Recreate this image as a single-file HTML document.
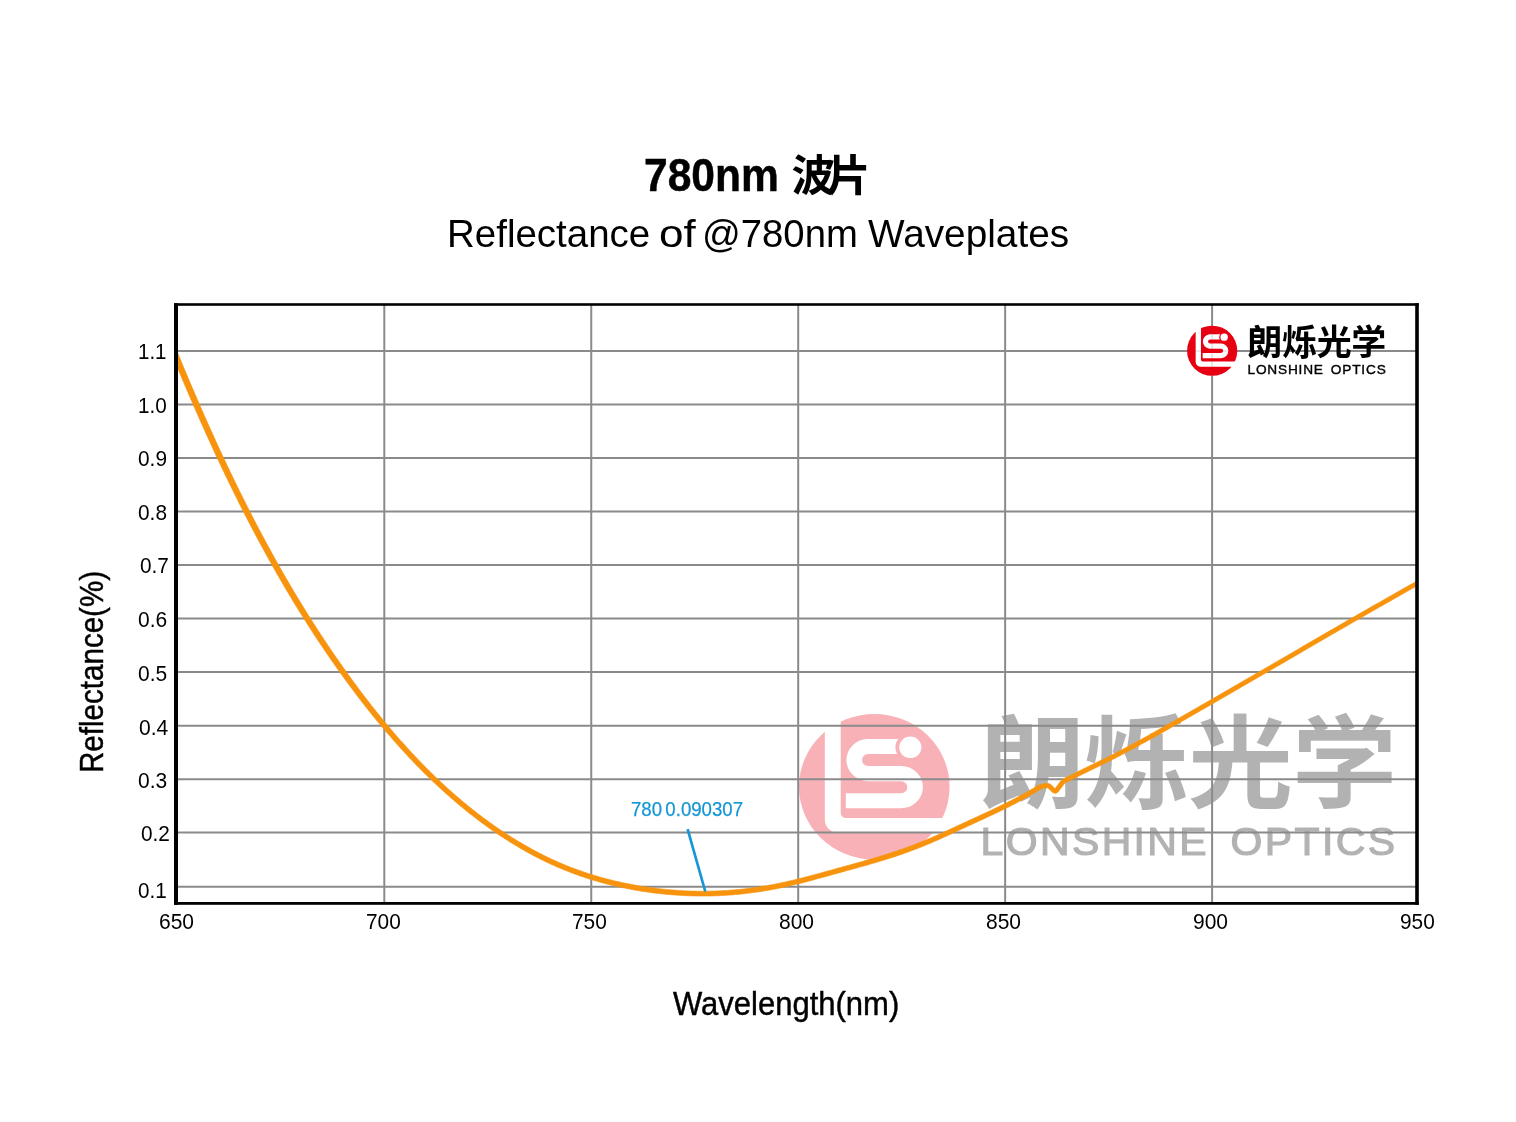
<!DOCTYPE html>
<html lang="en"><head><meta charset="utf-8"><title>780nm Waveplates Reflectance</title>
<style>
html,body{margin:0;padding:0;background:#fff}
body{width:1516px;height:1122px;position:relative;overflow:hidden;font-family:"Liberation Sans",sans-serif;color:#000}
#chart{position:absolute;left:0;top:0;width:1516px;height:1122px}
.t{position:absolute;white-space:nowrap;line-height:1;margin:0;padding:0;transform-origin:0 0}
svg text{font-family:"Liberation Sans","Noto Sans CJK SC",sans-serif}
#page{position:absolute;left:0;top:0;width:1516px;height:1122px;opacity:.999}
</style></head><body><div id="page">
<svg id="chart" width="1516" height="1122" viewBox="0 0 1516 1122">
<defs>
<clipPath id="plot"><rect x="176" y="304.5" width="1241" height="598.9"/></clipPath>
<mask id="lsm" maskUnits="userSpaceOnUse" x="-1" y="-1" width="54" height="54">
<circle cx="25.1" cy="25.1" r="25.1" fill="#fff"/>
<path d="M8.6 -2 V36.4 A4.6 4.6 0 0 0 13.2 41 H60 V35.9 H15.7 A1.8 1.8 0 0 1 13.9 34.1 V-2 Z" fill="#000"/>
<path d="M37 11.2 H22.88 A4.68 4.68 0 0 0 22.88 20.55 H34.02 A4.67 4.67 0 0 1 34.02 29.9 H15.6" fill="none" stroke="#000" stroke-width="5.2"/>
<circle cx="37.1" cy="11.5" r="4.95" fill="#fff"/>
<circle cx="37.1" cy="11.5" r="3.7" fill="#000"/>
</mask>
</defs>
<g transform="translate(799 714) scale(3 2.9)" opacity="0.3" class="wm"><circle cx="25.1" cy="25.1" r="24.8" fill="#fff" opacity="0.8"/><rect x="-1" y="-1" width="54" height="54" fill="#e60012" mask="url(#lsm)"/><text x="60.3" y="29.8" font-size="35" font-weight="bold" textLength="139" lengthAdjust="spacing" fill="#000" style="font-family:'Liberation Sans','Noto Sans CJK SC',sans-serif">朗烁光学</text><text x="60.5" y="48.5" font-size="13.66" textLength="75.4" lengthAdjust="spacing" fill="#000" font-weight="normal" stroke="#000" stroke-width="0.42">LONSHINE</text><text x="143.8" y="48.5" font-size="13.66" textLength="54.9" lengthAdjust="spacing" fill="#000" font-weight="normal" stroke="#000" stroke-width="0.42">OPTICS</text></g>
<g stroke="#8a8a8a" fill="none"><line x1="384.3" y1="304.5" x2="384.3" y2="903.4" stroke-width="2"/><line x1="591.25" y1="304.5" x2="591.25" y2="903.4" stroke-width="2"/><line x1="798.2" y1="304.5" x2="798.2" y2="903.4" stroke-width="2"/><line x1="1005.15" y1="304.5" x2="1005.15" y2="903.4" stroke-width="2"/><line x1="1212.1" y1="304.5" x2="1212.1" y2="903.4" stroke-width="2"/><line x1="176" y1="350.99" x2="1417" y2="350.99" stroke-width="2"/><line x1="176" y1="404.52" x2="1417" y2="404.52" stroke-width="2"/><line x1="176" y1="458.05" x2="1417" y2="458.05" stroke-width="2"/><line x1="176" y1="511.55" x2="1417" y2="511.55" stroke-width="2"/><line x1="176" y1="565.04" x2="1417" y2="565.04" stroke-width="2"/><line x1="176" y1="618.39" x2="1417" y2="618.39" stroke-width="2"/><line x1="176" y1="671.92" x2="1417" y2="671.92" stroke-width="2"/><line x1="176" y1="725.64" x2="1417" y2="725.64" stroke-width="2"/><line x1="176" y1="779.17" x2="1417" y2="779.17" stroke-width="2"/><line x1="176" y1="832.52" x2="1417" y2="832.52" stroke-width="2"/><line x1="176" y1="886.75" x2="1417" y2="886.75" stroke-width="2"/></g>
<g transform="translate(1187.06 325.65) scale(1 1)" opacity="1" class="sm"><circle cx="25.1" cy="25.1" r="24.8" fill="#fff" opacity="0.8"/><rect x="-1" y="-1" width="54" height="54" fill="#e60012" mask="url(#lsm)"/><text x="60.3" y="29.8" font-size="35" font-weight="bold" textLength="139" lengthAdjust="spacing" fill="#000" style="font-family:'Liberation Sans','Noto Sans CJK SC',sans-serif">朗烁光学</text><text x="60.5" y="48.5" font-size="13.66" textLength="75.4" lengthAdjust="spacing" fill="#000" font-weight="normal" stroke="#000" stroke-width="0.42">LONSHINE</text><text x="143.8" y="48.5" font-size="13.66" textLength="54.9" lengthAdjust="spacing" fill="#000" font-weight="normal" stroke="#000" stroke-width="0.42">OPTICS</text></g>
<path d="M172.22 355.14 L175.28 362.53 L176.05 364.38 L176.82 366.23 L177.59 368.08 L178.36 369.92 L179.14 371.77 L179.91 373.61 L180.69 375.46 L181.46 377.3 L182.24 379.15 L183.02 380.99 L183.81 382.84 L184.59 384.68 L185.38 386.52 L186.16 388.36 L186.95 390.2 L187.74 392.04 L188.53 393.88 L189.32 395.72 L190.11 397.56 L190.9 399.4 L191.7 401.23 L192.49 403.07 L193.29 404.91 L194.09 406.75 L194.89 408.58 L195.7 410.42 L196.5 412.25 L197.31 414.08 L198.12 415.91 L198.93 417.75 L199.74 419.58 L200.55 421.41 L201.37 423.23 L202.18 425.06 L202.99 426.89 L203.81 428.72 L204.64 430.55 L205.46 432.38 L206.29 434.2 L207.11 436.02 L207.94 437.84 L208.76 439.67 L209.59 441.49 L210.42 443.31 L211.26 445.14 L212.1 446.96 L212.94 448.78 L213.78 450.59 L214.62 452.41 L215.46 454.22 L216.3 456.04 L217.15 457.86 L218 459.67 L218.85 461.49 L219.71 463.3 L220.57 465.11 L221.42 466.92 L222.28 468.72 L223.14 470.53 L224 472.34 L224.87 474.15 L225.74 475.96 L226.61 477.76 L227.48 479.57 L228.35 481.37 L229.23 483.17 L230.1 484.97 L230.98 486.77 L231.86 488.57 L232.74 490.37 L233.62 492.17 L234.51 493.96 L235.4 495.76 L236.29 497.55 L237.19 499.35 L238.08 501.14 L238.98 502.93 L239.88 504.72 L240.78 506.51 L241.69 508.3 L242.59 510.08 L243.51 511.87 L244.42 513.65 L245.33 515.44 L246.25 517.22 L247.17 519 L248.09 520.78 L249.01 522.56 L249.93 524.33 L250.86 526.11 L251.79 527.89 L252.73 529.66 L253.66 531.43 L254.59 533.2 L255.53 534.97 L256.47 536.74 L257.42 538.51 L258.36 540.28 L259.31 542.04 L260.26 543.8 L261.22 545.57 L262.17 547.33 L263.13 549.09 L264.09 550.85 L265.06 552.6 L266.02 554.36 L266.99 556.11 L267.96 557.87 L268.94 559.62 L269.92 561.37 L270.9 563.12 L271.88 564.86 L272.86 566.61 L273.85 568.36 L274.84 570.1 L275.83 571.84 L276.82 573.58 L277.82 575.32 L278.82 577.06 L279.82 578.79 L280.83 580.52 L281.83 582.26 L282.84 583.99 L283.85 585.72 L284.87 587.45 L285.89 589.18 L286.92 590.9 L287.94 592.62 L288.97 594.34 L290 596.06 L291.03 597.78 L292.06 599.5 L293.1 601.21 L294.14 602.93 L295.18 604.64 L296.23 606.35 L297.28 608.06 L298.33 609.76 L299.39 611.47 L300.45 613.17 L301.51 614.87 L302.57 616.57 L303.64 618.27 L304.71 619.96 L305.78 621.66 L306.86 623.35 L307.94 625.04 L309.02 626.73 L310.1 628.41 L311.19 630.1 L312.28 631.78 L313.38 633.46 L314.47 635.13 L315.57 636.81 L316.67 638.49 L317.78 640.16 L318.89 641.83 L320.01 643.5 L321.12 645.16 L322.24 646.82 L323.35 648.49 L324.48 650.15 L325.61 651.81 L326.74 653.47 L327.87 655.12 L329 656.77 L330.14 658.42 L331.28 660.07 L332.43 661.72 L333.57 663.36 L334.72 665.01 L335.88 666.65 L337.04 668.28 L338.2 669.92 L339.36 671.55 L340.53 673.18 L341.69 674.81 L342.87 676.44 L344.04 678.06 L345.22 679.69 L346.4 681.31 L347.58 682.93 L348.77 684.54 L349.97 686.16 L351.16 687.77 L352.36 689.37 L353.56 690.98 L354.76 692.58 L355.97 694.19 L357.19 695.79 L358.4 697.38 L359.62 698.97 L360.84 700.56 L362.07 702.15 L363.3 703.74 L364.53 705.32 L365.77 706.9 L367.01 708.47 L368.26 710.05 L369.51 711.62 L370.76 713.18 L372.01 714.75 L373.27 716.31 L374.54 717.87 L375.81 719.42 L377.08 720.98 L378.35 722.53 L379.63 724.07 L380.91 725.62 L382.2 727.16 L383.49 728.7 L384.79 730.23 L386.09 731.76 L387.39 733.28 L388.7 734.8 L390.01 736.32 L391.32 737.84 L392.64 739.35 L393.97 740.86 L395.3 742.37 L396.63 743.87 L397.97 745.36 L399.3 746.86 L400.65 748.35 L402 749.84 L403.35 751.32 L404.71 752.8 L406.08 754.27 L407.44 755.74 L408.82 757.2 L410.19 758.67 L411.57 760.12 L412.96 761.58 L414.35 763.03 L415.75 764.47 L417.15 765.91 L418.55 767.35 L419.96 768.78 L421.37 770.2 L422.79 771.63 L424.21 773.04 L425.64 774.46 L427.07 775.87 L428.51 777.27 L429.96 778.67 L431.41 780.06 L432.86 781.44 L434.32 782.82 L435.78 784.2 L437.24 785.57 L438.71 786.94 L440.19 788.31 L441.68 789.67 L443.16 791.02 L444.66 792.36 L446.15 793.7 L447.65 795.03 L449.15 796.37 L450.67 797.7 L452.18 799.02 L453.71 800.33 L455.23 801.63 L456.76 802.93 L458.3 804.23 L459.84 805.52 L461.38 806.81 L462.93 808.09 L464.49 809.36 L466.05 810.63 L467.61 811.89 L469.19 813.14 L470.77 814.39 L472.35 815.62 L473.94 816.85 L475.53 818.08 L477.13 819.3 L478.73 820.52 L480.34 821.72 L481.96 822.92 L483.58 824.11 L485.2 825.3 L486.83 826.47 L488.46 827.64 L490.1 828.81 L491.75 829.97 L493.4 831.12 L495.06 832.26 L496.72 833.39 L498.39 834.52 L500.06 835.64 L501.74 836.75 L503.42 837.85 L505.11 838.94 L506.8 840.03 L508.5 841.11 L510.21 842.18 L511.92 843.24 L513.63 844.29 L515.35 845.33 L517.08 846.37 L518.81 847.39 L520.55 848.41 L522.29 849.42 L524.04 850.42 L525.79 851.41 L527.55 852.39 L529.31 853.36 L531.08 854.32 L532.86 855.28 L534.64 856.22 L536.43 857.14 L538.22 858.06 L540.01 858.97 L541.81 859.87 L543.62 860.77 L545.44 861.65 L547.26 862.51 L549.08 863.37 L550.91 864.21 L552.74 865.05 L554.58 865.87 L556.43 866.68 L558.28 867.48 L560.13 868.27 L561.99 869.05 L563.86 869.81 L565.73 870.57 L567.6 871.31 L569.48 872.04 L571.36 872.76 L573.24 873.46 L575.14 874.16 L577.03 874.85 L578.93 875.52 L580.84 876.18 L582.75 876.83 L584.66 877.47 L586.57 878.09 L588.49 878.7 L590.41 879.31 L592.34 879.9 L594.27 880.48 L596.2 881.05 L598.13 881.61 L600.07 882.15 L602.01 882.69 L603.95 883.22 L605.9 883.74 L607.85 884.24 L609.81 884.73 L611.76 885.21 L613.72 885.68 L615.68 886.14 L617.64 886.59 L619.61 887.03 L621.57 887.46 L623.54 887.87 L625.51 888.28 L627.49 888.68 L629.46 889.06 L631.44 889.44 L633.42 889.8 L635.4 890.16 L637.39 890.5 L639.37 890.84 L641.36 891.16 L643.34 891.47 L645.33 891.78 L647.32 892.07 L649.32 892.36 L651.31 892.63 L653.31 892.89 L655.3 893.14 L657.3 893.38 L659.3 893.61 L661.31 893.83 L663.31 894.04 L665.31 894.24 L667.31 894.43 L669.32 894.61 L671.32 894.77 L673.33 894.93 L675.34 895.08 L677.34 895.22 L679.35 895.34 L681.36 895.46 L683.37 895.57 L685.38 895.66 L687.39 895.75 L689.41 895.82 L691.42 895.89 L693.43 895.94 L695.44 895.98 L697.45 896.01 L699.46 896.04 L701.48 896.05 L703.5 896.05 L705.5 896.03 L707.51 896.02 L709.53 895.99 L711.55 895.94 L713.56 895.88 L715.57 895.82 L717.58 895.74 L719.59 895.66 L721.6 895.56 L723.61 895.46 L725.62 895.34 L727.63 895.21 L729.64 895.07 L731.64 894.92 L733.65 894.76 L735.65 894.59 L737.66 894.41 L739.67 894.22 L741.67 894.02 L743.67 893.8 L745.67 893.58 L747.67 893.34 L749.67 893.09 L751.66 892.83 L753.66 892.57 L755.65 892.29 L757.64 892 L759.63 891.7 L761.62 891.39 L763.61 891.07 L765.59 890.74 L767.58 890.4 L769.56 890.05 L771.54 889.68 L773.52 889.31 L775.5 888.93 L777.47 888.53 L779.44 888.13 L781.41 887.72 L783.37 887.3 L785.34 886.87 L787.3 886.42 L789.26 885.97 L791.21 885.52 L793.17 885.06 L795.12 884.6 L797.07 884.12 L799.02 883.64 L800.97 883.16 L802.92 882.66 L804.86 882.17 L806.8 881.66 L808.74 881.15 L810.68 880.65 L812.62 880.13 L814.56 879.62 L816.49 879.09 L818.43 878.57 L820.36 878.04 L822.29 877.51 L824.22 876.98 L826.15 876.45 L828.08 875.92 L830.01 875.38 L831.94 874.84 L833.86 874.3 L835.79 873.76 L837.71 873.23 L839.64 872.69 L841.56 872.16 L843.49 871.63 L845.42 871.1 L847.35 870.56 L849.27 870.03 L851.2 869.5 L853.13 868.97 L855.06 868.44 L856.99 867.9 L858.92 867.37 L860.85 866.83 L862.78 866.29 L864.71 865.75 L866.63 865.2 L868.56 864.65 L870.49 864.09 L872.41 863.53 L874.34 862.97 L876.26 862.4 L878.19 861.83 L880.11 861.24 L882.03 860.66 L883.94 860.06 L885.86 859.47 L887.77 858.86 L889.69 858.25 L891.6 857.63 L893.51 857.01 L895.41 856.38 L897.32 855.74 L899.22 855.09 L901.12 854.44 L903.02 853.78 L904.92 853.12 L906.81 852.44 L908.7 851.76 L910.59 851.06 L912.47 850.37 L914.35 849.66 L916.23 848.95 L918.11 848.23 L919.98 847.49 L921.85 846.76 L923.72 846.01 L925.58 845.25 L927.44 844.48 L929.3 843.71 L931.15 842.92 L933 842.12 L934.84 841.32 L936.68 840.51 L938.51 839.7 L940.34 838.88 L942.17 838.05 L944 837.22 L945.82 836.39 L947.64 835.56 L949.46 834.72 L951.28 833.88 L953.1 833.03 L954.91 832.18 L956.72 831.34 L958.54 830.5 L960.35 829.66 L962.16 828.82 L963.97 827.98 L965.79 827.15 L967.61 826.32 L969.43 825.48 L971.24 824.65 L973.06 823.81 L974.88 822.97 L976.7 822.14 L978.51 821.3 L980.33 820.47 L982.15 819.63 L983.97 818.79 L985.78 817.95 L987.6 817.11 L989.42 816.26 L991.24 815.41 L993.05 814.55 L994.86 813.69 L996.67 812.83 L998.48 811.97 L1000.28 811.09 L1002.09 810.22 L1003.89 809.33 L1005.69 808.44 L1007.49 807.55 L1009.28 806.65 L1011.07 805.74 L1012.86 804.82 L1014.65 803.9 L1016.43 802.97 L1018.2 802.03 L1019.98 801.08 L1021.75 800.13 L1023.51 799.17 L1025.27 798.2 L1027.03 797.22 L1028.79 796.23 L1030.53 795.23 L1032.27 794.23 L1034.01 793.21 L1035.74 792.19 L1037.53 791.13 L1039.2 789.99 L1040.62 789.15 L1042.14 788.69 L1043.95 788.32 L1045.84 788.04 L1047.3 787.87 L1048.09 788.14 L1049.34 789.32 L1050.82 790.72 L1052.61 792.61 L1055.87 793.45 L1058.43 791.67 L1059.93 789.61 L1061.22 787.84 L1062.47 786.23 L1063.62 784.64 L1064.68 783.44 L1065.89 782.58 L1067.51 781.77 L1069.37 780.91 L1071.2 779.98 L1072.98 779.07 L1074.76 778.17 L1076.54 777.27 L1078.32 776.37 L1080.11 775.48 L1081.89 774.59 L1083.68 773.71 L1085.47 772.83 L1087.26 771.95 L1089.06 771.07 L1090.86 770.19 L1092.65 769.31 L1094.45 768.43 L1096.25 767.55 L1098.04 766.67 L1099.84 765.79 L1101.64 764.91 L1103.43 764.02 L1105.23 763.14 L1107.03 762.25 L1108.82 761.35 L1110.61 760.46 L1112.4 759.56 L1114.19 758.65 L1115.98 757.74 L1117.77 756.83 L1119.55 755.91 L1121.33 754.98 L1123.11 754.05 L1124.88 753.12 L1126.65 752.18 L1128.42 751.25 L1130.19 750.3 L1131.96 749.36 L1133.73 748.41 L1135.49 747.46 L1137.25 746.5 L1139.01 745.54 L1140.77 744.58 L1142.52 743.62 L1144.28 742.65 L1146.03 741.68 L1147.78 740.71 L1149.53 739.74 L1151.28 738.77 L1153.03 737.79 L1154.78 736.81 L1156.53 735.83 L1158.27 734.85 L1160.01 733.87 L1161.76 732.88 L1163.5 731.89 L1165.24 730.91 L1166.98 729.92 L1168.72 728.93 L1170.46 727.94 L1172.2 726.95 L1173.94 725.96 L1175.67 724.97 L1177.41 723.98 L1179.15 722.99 L1180.89 722 L1182.62 721 L1184.36 720.01 L1186.1 719.02 L1187.83 718.03 L1189.57 717.04 L1191.31 716.04 L1193.04 715.05 L1194.78 714.05 L1196.51 713.06 L1198.25 712.06 L1199.98 711.07 L1201.72 710.07 L1203.45 709.07 L1205.19 708.07 L1206.92 707.07 L1208.65 706.07 L1210.38 705.08 L1212.12 704.08 L1213.86 703.08 L1215.59 702.08 L1217.32 701.08 L1219.05 700.08 L1220.78 699.08 L1222.51 698.08 L1224.25 697.08 L1225.98 696.08 L1227.71 695.07 L1229.44 694.07 L1231.17 693.07 L1232.9 692.06 L1234.63 691.06 L1236.36 690.06 L1238.09 689.06 L1239.83 688.06 L1241.56 687.05 L1243.29 686.05 L1245.01 685.05 L1246.75 684.04 L1248.48 683.04 L1250.21 682.04 L1251.94 681.03 L1253.67 680.02 L1255.4 679.02 L1257.12 678.01 L1258.85 677.01 L1260.58 676 L1262.31 675 L1264.04 673.99 L1265.77 672.99 L1267.5 671.98 L1269.23 670.98 L1270.96 669.97 L1272.69 668.97 L1274.42 667.96 L1276.14 666.96 L1277.87 665.95 L1279.6 664.95 L1281.33 663.94 L1283.06 662.94 L1284.79 661.93 L1286.52 660.93 L1288.25 659.92 L1289.98 658.91 L1291.7 657.91 L1293.43 656.9 L1295.16 655.9 L1296.89 654.89 L1298.62 653.89 L1300.35 652.88 L1302.08 651.88 L1303.81 650.87 L1305.54 649.87 L1307.27 648.86 L1309 647.86 L1310.72 646.85 L1312.45 645.85 L1314.18 644.85 L1315.91 643.85 L1317.65 642.84 L1319.37 641.83 L1321.1 640.83 L1322.83 639.83 L1324.56 638.83 L1326.29 637.82 L1328.02 636.82 L1329.75 635.81 L1331.48 634.81 L1333.21 633.81 L1334.94 632.81 L1336.67 631.81 L1338.4 630.8 L1340.13 629.8 L1341.87 628.8 L1343.6 627.81 L1345.33 626.81 L1347.06 625.81 L1348.8 624.81 L1350.53 623.8 L1352.26 622.8 L1353.99 621.81 L1355.72 620.81 L1357.46 619.81 L1359.19 618.82 L1360.92 617.82 L1362.66 616.82 L1364.39 615.83 L1366.12 614.83 L1367.86 613.83 L1369.59 612.84 L1371.33 611.84 L1373.06 610.85 L1374.79 609.85 L1376.53 608.86 L1378.26 607.86 L1380 606.87 L1381.73 605.88 L1383.47 604.89 L1385.21 603.89 L1386.94 602.9 L1388.68 601.91 L1390.41 600.92 L1392.15 599.93 L1393.89 598.95 L1395.63 597.96 L1397.37 596.97 L1399.11 595.98 L1400.84 594.99 L1402.58 594.01 L1404.33 593.02 L1406.07 592.04 L1407.81 591.05 L1409.54 590.07 L1411.28 589.09 L1413.03 588.11 L1414.77 587.12 L1415.57 586.67 L1422.51 582.7 L1420.38 578.97 L1413.43 582.93 L1412.65 583.38 L1410.92 584.36 L1409.17 585.34 L1407.43 586.32 L1405.68 587.31 L1403.94 588.29 L1402.2 589.28 L1400.46 590.26 L1398.72 591.25 L1396.98 592.23 L1395.24 593.22 L1393.5 594.21 L1391.76 595.2 L1390.03 596.19 L1388.29 597.17 L1386.54 598.16 L1384.8 599.16 L1383.07 600.15 L1381.33 601.14 L1379.6 602.13 L1377.86 603.13 L1376.12 604.12 L1374.38 605.11 L1372.65 606.11 L1370.91 607.1 L1369.18 608.1 L1367.44 609.09 L1365.71 610.09 L1363.97 611.09 L1362.24 612.08 L1360.5 613.08 L1358.77 614.08 L1357.04 615.07 L1355.3 616.07 L1353.57 617.07 L1351.83 618.06 L1350.1 619.06 L1348.36 620.06 L1346.63 621.06 L1344.9 622.06 L1343.17 623.06 L1341.44 624.06 L1339.7 625.06 L1337.97 626.06 L1336.24 627.06 L1334.51 628.06 L1332.78 629.06 L1331.04 630.06 L1329.31 631.06 L1327.58 632.07 L1325.85 633.07 L1324.12 634.08 L1322.39 635.08 L1320.66 636.08 L1318.93 637.08 L1317.2 638.09 L1315.47 639.09 L1313.74 640.1 L1312.01 641.1 L1310.28 642.1 L1308.55 643.1 L1306.82 644.11 L1305.09 645.11 L1303.36 646.12 L1301.63 647.12 L1299.9 648.13 L1298.17 649.13 L1296.44 650.14 L1294.71 651.14 L1292.98 652.15 L1291.25 653.15 L1289.52 654.16 L1287.79 655.16 L1286.06 656.17 L1284.34 657.17 L1282.61 658.18 L1280.88 659.18 L1279.15 660.19 L1277.42 661.19 L1275.69 662.2 L1273.96 663.2 L1272.23 664.21 L1270.5 665.21 L1268.77 666.22 L1267.04 667.22 L1265.31 668.22 L1263.59 669.23 L1261.86 670.23 L1260.13 671.24 L1258.4 672.24 L1256.67 673.25 L1254.94 674.25 L1253.21 675.26 L1251.48 676.26 L1249.75 677.27 L1248.02 678.27 L1246.29 679.27 L1244.56 680.28 L1242.83 681.28 L1241.1 682.28 L1239.37 683.28 L1237.64 684.29 L1235.91 685.29 L1234.18 686.29 L1232.45 687.29 L1230.72 688.29 L1228.98 689.29 L1227.25 690.3 L1225.53 691.3 L1223.8 692.3 L1222.06 693.3 L1220.33 694.3 L1218.6 695.3 L1216.87 696.3 L1215.13 697.3 L1213.4 698.3 L1211.67 699.3 L1209.94 700.3 L1208.21 701.29 L1206.48 702.29 L1204.74 703.28 L1203 704.28 L1201.27 705.28 L1199.54 706.28 L1197.81 707.28 L1196.07 708.27 L1194.34 709.27 L1192.6 710.26 L1190.87 711.26 L1189.14 712.25 L1187.4 713.24 L1185.66 714.23 L1183.93 715.22 L1182.19 716.21 L1180.45 717.21 L1178.72 718.2 L1176.98 719.19 L1175.24 720.18 L1173.51 721.17 L1171.77 722.16 L1170.03 723.15 L1168.3 724.14 L1166.56 725.12 L1164.82 726.11 L1163.08 727.09 L1161.34 728.08 L1159.6 729.07 L1157.86 730.05 L1156.12 731.03 L1154.38 732.01 L1152.64 732.99 L1150.89 733.96 L1149.15 734.94 L1147.4 735.91 L1145.66 736.88 L1143.91 737.84 L1142.16 738.81 L1140.41 739.77 L1138.66 740.73 L1136.91 741.69 L1135.16 742.65 L1133.4 743.6 L1131.65 744.55 L1129.89 745.49 L1128.13 746.43 L1126.36 747.37 L1124.6 748.3 L1122.83 749.24 L1121.07 750.16 L1119.3 751.09 L1117.53 752.01 L1115.76 752.92 L1113.99 753.83 L1112.21 754.73 L1110.43 755.63 L1108.64 756.53 L1106.86 757.42 L1105.07 758.31 L1103.28 759.19 L1101.49 760.08 L1099.7 760.96 L1097.91 761.83 L1096.11 762.71 L1094.31 763.58 L1092.51 764.46 L1090.71 765.34 L1088.92 766.21 L1087.12 767.08 L1085.32 767.95 L1083.51 768.83 L1081.71 769.71 L1079.92 770.6 L1078.12 771.49 L1076.32 772.38 L1074.53 773.28 L1072.74 774.17 L1070.95 775.07 L1069.16 775.98 L1067.41 776.86 L1065.56 777.72 L1063.58 778.72 L1061.67 780.08 L1060.11 781.8 L1058.85 783.52 L1057.61 785.13 L1056.27 786.95 L1055.09 788.61 L1054.88 789.03 L1055.26 788.93 L1054.06 787.53 L1052.43 785.99 L1050.48 784.26 L1047.81 783.34 L1045.31 783.51 L1043.17 783.82 L1041.01 784.25 L1038.78 784.96 L1036.76 786.11 L1035.06 787.26 L1033.41 788.24 L1031.69 789.24 L1029.97 790.24 L1028.24 791.23 L1026.51 792.21 L1024.78 793.18 L1023.04 794.15 L1021.29 795.1 L1019.54 796.05 L1017.79 796.99 L1016.03 797.92 L1014.27 798.84 L1012.5 799.76 L1010.73 800.67 L1008.96 801.57 L1007.18 802.47 L1005.4 803.36 L1003.61 804.24 L1001.82 805.12 L1000.03 805.99 L998.24 806.86 L996.44 807.73 L994.64 808.59 L992.84 809.44 L991.03 810.3 L989.23 811.15 L987.43 812 L985.62 812.84 L983.81 813.68 L981.99 814.52 L980.18 815.35 L978.36 816.19 L976.54 817.02 L974.73 817.86 L972.91 818.69 L971.09 819.53 L969.27 820.36 L967.46 821.19 L965.64 822.03 L963.82 822.86 L962 823.69 L960.18 824.53 L958.36 825.37 L956.55 826.21 L954.73 827.06 L952.92 827.9 L951.1 828.75 L949.3 829.59 L947.48 830.42 L945.67 831.26 L943.85 832.09 L942.04 832.92 L940.22 833.74 L938.4 834.56 L936.58 835.37 L934.76 836.18 L932.94 836.98 L931.12 837.78 L929.29 838.56 L927.46 839.34 L925.62 840.1 L923.79 840.86 L921.94 841.61 L920.1 842.35 L918.25 843.08 L916.39 843.8 L914.54 844.51 L912.68 845.22 L910.81 845.92 L908.94 846.61 L907.07 847.29 L905.2 847.97 L903.33 848.64 L901.45 849.3 L899.57 849.95 L897.69 850.59 L895.8 851.23 L893.91 851.86 L892.02 852.49 L890.13 853.11 L888.23 853.72 L886.34 854.32 L884.44 854.92 L882.53 855.52 L880.63 856.1 L878.72 856.68 L876.81 857.26 L874.91 857.83 L872.99 858.39 L871.08 858.95 L869.16 859.51 L867.25 860.06 L865.33 860.61 L863.41 861.15 L861.49 861.7 L859.56 862.23 L857.64 862.77 L855.72 863.3 L853.79 863.83 L851.86 864.36 L849.93 864.89 L848 865.42 L846.07 865.95 L844.15 866.49 L842.22 867.02 L840.29 867.55 L838.36 868.08 L836.43 868.61 L834.5 869.15 L832.57 869.69 L830.65 870.22 L828.72 870.76 L826.8 871.3 L824.87 871.83 L822.95 872.36 L821.02 872.88 L819.09 873.41 L817.16 873.94 L815.24 874.46 L813.31 874.98 L811.39 875.49 L809.46 876 L807.53 876.51 L805.59 877.01 L803.66 877.51 L801.73 878 L799.8 878.49 L797.87 878.97 L795.93 879.45 L794 879.92 L792.06 880.38 L790.12 880.83 L788.18 881.28 L786.24 881.73 L784.3 882.16 L782.36 882.59 L780.41 883 L778.46 883.41 L776.51 883.81 L774.56 884.19 L772.61 884.57 L770.66 884.94 L768.71 885.3 L766.75 885.65 L764.79 885.98 L762.83 886.3 L760.87 886.62 L758.9 886.92 L756.94 887.22 L754.97 887.5 L753 887.78 L751.03 888.04 L749.06 888.29 L747.09 888.54 L745.12 888.77 L743.14 888.99 L741.17 889.2 L739.19 889.4 L737.21 889.59 L735.23 889.77 L733.25 889.93 L731.27 890.09 L729.29 890.24 L727.31 890.38 L725.33 890.5 L723.34 890.61 L721.36 890.72 L719.37 890.81 L717.39 890.89 L715.4 890.97 L713.41 891.03 L711.42 891.08 L709.44 891.13 L707.46 891.16 L705.47 891.17 L703.48 891.18 L701.49 891.19 L699.51 891.18 L697.52 891.15 L695.53 891.12 L693.55 891.08 L691.56 891.02 L689.57 890.96 L687.59 890.88 L685.6 890.8 L683.62 890.7 L681.63 890.6 L679.65 890.48 L677.67 890.35 L675.68 890.21 L673.7 890.07 L671.72 889.91 L669.74 889.74 L667.76 889.57 L665.78 889.38 L663.8 889.18 L661.82 888.98 L659.85 888.76 L657.88 888.53 L655.91 888.29 L653.93 888.04 L651.96 887.78 L649.99 887.51 L648.03 887.23 L646.06 886.94 L644.1 886.64 L642.13 886.33 L640.17 886.01 L638.21 885.67 L636.25 885.33 L634.3 884.98 L632.34 884.62 L630.39 884.25 L628.44 883.87 L626.5 883.48 L624.55 883.07 L622.61 882.66 L620.66 882.24 L618.73 881.8 L616.79 881.36 L614.86 880.9 L612.92 880.44 L610.99 879.96 L609.07 879.48 L607.15 878.98 L605.23 878.47 L603.31 877.95 L601.4 877.42 L599.49 876.88 L597.58 876.32 L595.67 875.76 L593.77 875.19 L591.87 874.61 L589.98 874.01 L588.09 873.4 L586.2 872.79 L584.32 872.16 L582.44 871.52 L580.56 870.87 L578.69 870.21 L576.83 869.53 L574.97 868.84 L573.11 868.14 L571.25 867.43 L569.4 866.71 L567.56 865.98 L565.72 865.24 L563.88 864.49 L562.05 863.72 L560.22 862.94 L558.4 862.15 L556.59 861.36 L554.78 860.54 L552.97 859.72 L551.17 858.89 L549.37 858.04 L547.58 857.19 L545.8 856.32 L544.02 855.44 L542.24 854.55 L540.47 853.65 L538.7 852.74 L536.94 851.83 L535.18 850.9 L533.44 849.96 L531.69 849.01 L529.95 848.05 L528.22 847.08 L526.49 846.11 L524.76 845.12 L523.05 844.12 L521.33 843.12 L519.62 842.1 L517.92 841.08 L516.22 840.05 L514.52 839.01 L512.83 837.96 L511.15 836.91 L509.47 835.84 L507.8 834.77 L506.13 833.69 L504.47 832.6 L502.81 831.5 L501.16 830.39 L499.51 829.28 L497.87 828.16 L496.23 827.03 L494.6 825.89 L492.98 824.75 L491.36 823.59 L489.74 822.43 L488.13 821.27 L486.52 820.09 L484.92 818.91 L483.32 817.73 L481.73 816.54 L480.14 815.34 L478.57 814.13 L476.99 812.91 L475.42 811.69 L473.85 810.46 L472.29 809.23 L470.73 807.99 L469.19 806.75 L467.64 805.49 L466.1 804.23 L464.57 802.96 L463.04 801.69 L461.51 800.41 L459.99 799.12 L458.48 797.83 L456.96 796.54 L455.46 795.24 L453.95 793.93 L452.46 792.62 L450.98 791.3 L449.5 789.97 L448.02 788.63 L446.54 787.29 L445.07 785.95 L443.61 784.6 L442.15 783.25 L440.7 781.89 L439.25 780.52 L437.8 779.15 L436.36 777.77 L434.92 776.39 L433.49 775.01 L432.07 773.62 L430.64 772.23 L429.23 770.83 L427.82 769.42 L426.41 768.01 L425.01 766.6 L423.62 765.18 L422.22 763.75 L420.83 762.32 L419.45 760.89 L418.07 759.46 L416.7 758.02 L415.33 756.57 L413.96 755.12 L412.6 753.66 L411.24 752.2 L409.89 750.74 L408.54 749.27 L407.2 747.8 L405.86 746.33 L404.53 744.85 L403.2 743.37 L401.87 741.88 L400.55 740.39 L399.23 738.89 L397.91 737.4 L396.6 735.9 L395.3 734.39 L394 732.88 L392.7 731.37 L391.41 729.85 L390.12 728.33 L388.83 726.81 L387.55 725.28 L386.27 723.76 L385 722.22 L383.73 720.69 L382.46 719.14 L381.2 717.6 L379.94 716.05 L378.69 714.5 L377.44 712.95 L376.19 711.4 L374.95 709.84 L373.71 708.28 L372.47 706.71 L371.24 705.15 L370.01 703.58 L368.78 702 L367.56 700.43 L366.35 698.85 L365.13 697.27 L363.92 695.68 L362.71 694.09 L361.51 692.51 L360.31 690.92 L359.11 689.32 L357.92 687.72 L356.73 686.12 L355.54 684.52 L354.35 682.91 L353.17 681.31 L352 679.7 L350.82 678.09 L349.65 676.47 L348.49 674.85 L347.32 673.23 L346.16 671.61 L345 669.99 L343.84 668.36 L342.69 666.73 L341.54 665.1 L340.4 663.47 L339.25 661.84 L338.11 660.2 L336.98 658.56 L335.84 656.92 L334.71 655.28 L333.58 653.63 L332.46 651.98 L331.33 650.33 L330.21 648.68 L329.1 647.03 L327.99 645.38 L326.88 643.72 L325.77 642.06 L324.66 640.39 L323.56 638.73 L322.46 637.07 L321.36 635.4 L320.27 633.74 L319.18 632.06 L318.09 630.39 L317.01 628.71 L315.93 627.04 L314.85 625.36 L313.77 623.68 L312.7 622 L311.63 620.31 L310.56 618.63 L309.5 616.94 L308.44 615.25 L307.38 613.56 L306.33 611.87 L305.28 610.17 L304.23 608.47 L303.18 606.77 L302.13 605.07 L301.09 603.37 L300.05 601.67 L299.01 599.97 L297.98 598.26 L296.95 596.55 L295.92 594.84 L294.9 593.13 L293.87 591.41 L292.85 589.7 L291.83 587.98 L290.81 586.27 L289.8 584.55 L288.79 582.83 L287.78 581.11 L286.78 579.38 L285.78 577.66 L284.78 575.93 L283.79 574.2 L282.79 572.46 L281.8 570.73 L280.81 569 L279.82 567.27 L278.84 565.53 L277.86 563.79 L276.88 562.05 L275.9 560.31 L274.93 558.57 L273.95 556.83 L272.99 555.08 L272.02 553.34 L271.06 551.59 L270.1 549.84 L269.14 548.09 L268.18 546.33 L267.23 544.58 L266.28 542.83 L265.33 541.07 L264.38 539.31 L263.44 537.55 L262.5 535.79 L261.56 534.03 L260.63 532.27 L259.69 530.51 L258.76 528.74 L257.83 526.97 L256.9 525.2 L255.98 523.44 L255.05 521.67 L254.13 519.9 L253.22 518.12 L252.3 516.35 L251.39 514.57 L250.47 512.8 L249.56 511.02 L248.66 509.24 L247.75 507.46 L246.85 505.68 L245.95 503.9 L245.05 502.12 L244.15 500.33 L243.26 498.55 L242.37 496.76 L241.48 494.98 L240.59 493.19 L239.71 491.4 L238.83 489.61 L237.95 487.81 L237.07 486.02 L236.19 484.23 L235.32 482.43 L234.45 480.63 L233.58 478.84 L232.71 477.04 L231.84 475.24 L230.97 473.44 L230.11 471.64 L229.25 469.84 L228.39 468.04 L227.54 466.23 L226.68 464.43 L225.82 462.62 L224.97 460.81 L224.12 459.01 L223.27 457.2 L222.43 455.39 L221.59 453.58 L220.75 451.77 L219.91 449.96 L219.07 448.15 L218.23 446.33 L217.39 444.52 L216.56 442.7 L215.73 440.89 L214.9 439.07 L214.08 437.26 L213.25 435.44 L212.43 433.61 L211.61 431.79 L210.78 429.97 L209.96 428.15 L209.15 426.33 L208.33 424.51 L207.52 422.68 L206.71 420.86 L205.9 419.03 L205.09 417.2 L204.28 415.38 L203.47 413.55 L202.67 411.72 L201.86 409.89 L201.06 408.06 L200.26 406.23 L199.46 404.4 L198.66 402.57 L197.87 400.74 L197.08 398.91 L196.29 397.07 L195.5 395.24 L194.71 393.4 L193.92 391.57 L193.13 389.73 L192.35 387.89 L191.56 386.05 L190.78 384.22 L190 382.38 L189.21 380.54 L188.43 378.7 L187.66 376.86 L186.88 375.02 L186.11 373.18 L185.34 371.33 L184.56 369.49 L183.79 367.65 L183.02 365.81 L182.25 363.96 L181.48 362.12 L180.72 360.27 L177.66 352.88Z" fill="#f7930d" stroke="#f7930d" stroke-width="0.6" stroke-linejoin="round" clip-path="url(#plot)"/>
<line x1="687.6" y1="829.2" x2="705.3" y2="891.5" stroke="#1597d5" stroke-width="2.7"/>
<g fill="#000">
<rect x="174" y="303.2" width="4" height="601.6"/>
<rect x="1415.2" y="303.2" width="3.6" height="601.6"/>
<rect x="174" y="303.2" width="1244.8" height="2.6"/>
<rect x="174" y="902" width="1244.8" height="2.8"/>
</g>
<text x="791.5" y="191" font-size="43.5" font-weight="bold" textLength="79" lengthAdjust="spacing" fill="#000" style="font-family:'Liberation Sans','Noto Sans CJK SC',sans-serif">波片</text>
</svg>
<div class="t" id="ttl" style="left:643.82px;top:152.84px;font-size:45.6px;font-weight:bold;-webkit-text-stroke:0.5px #000;transform:scale(0.9333,1);">780nm</div>
<div class="t" id="sub0" style="left:446.95px;top:215.36px;font-size:38.52px;transform:scale(0.9992,1);">Reflectance</div>
<div class="t" id="sub1" style="left:658.74px;top:215.36px;font-size:38.52px;transform:scale(1.1439,1);">of</div>
<div class="t" id="sub2" style="left:702.05px;top:215.36px;font-size:38.52px;transform:scale(0.9929,1);">@780nm</div>
<div class="t" id="sub3" style="left:867.69px;top:215.36px;font-size:38.52px;transform:scale(1.0068,1);">Waveplates</div>
<div class="t" id="y0" style="left:137.8px;top:340.62px;font-size:22.5px;transform:scale(0.9097,1);">1.1</div>
<div class="t" id="y1" style="left:137.99px;top:394.52px;font-size:22.5px;transform:scale(0.9198,1);">1.0</div>
<div class="t" id="y2" style="left:137.97px;top:447.98px;font-size:22.5px;transform:scale(0.9265,1);">0.9</div>
<div class="t" id="y3" style="left:137.98px;top:502.38px;font-size:22.5px;transform:scale(0.9263,1);">0.8</div>
<div class="t" id="y4" style="left:139.57px;top:554.77px;font-size:22.5px;transform:scale(0.9247,1);">0.7</div>
<div class="t" id="y5" style="left:137.9px;top:608.88px;font-size:22.5px;transform:scale(0.933,1);">0.6</div>
<div class="t" id="y6" style="left:138.37px;top:663.38px;font-size:22.5px;transform:scale(0.9327,1);">0.5</div>
<div class="t" id="y7" style="left:138.74px;top:717.38px;font-size:22.5px;transform:scale(0.9342,1);">0.4</div>
<div class="t" id="y8" style="left:138.37px;top:769.77px;font-size:22.5px;transform:scale(0.9327,1);">0.3</div>
<div class="t" id="y9" style="left:140.57px;top:823.17px;font-size:22.5px;transform:scale(0.9247,1);">0.2</div>
<div class="t" id="y10" style="left:137.74px;top:880.48px;font-size:22.5px;transform:scale(0.9178,1);">0.1</div>
<div class="t" id="x0" style="left:159.23px;top:910.94px;font-size:22.3px;transform:scale(0.9413,1);">650</div>
<div class="t" id="x1" style="left:366.19px;top:910.94px;font-size:22.3px;transform:scale(0.9342,1);">700</div>
<div class="t" id="x2" style="left:572.16px;top:910.94px;font-size:22.3px;transform:scale(0.9342,1);">750</div>
<div class="t" id="x3" style="left:778.83px;top:910.94px;font-size:22.3px;transform:scale(0.9413,1);">800</div>
<div class="t" id="x4" style="left:986.03px;top:910.94px;font-size:22.3px;transform:scale(0.9413,1);">850</div>
<div class="t" id="x5" style="left:1193.23px;top:910.94px;font-size:22.3px;transform:scale(0.9413,1);">900</div>
<div class="t" id="x6" style="left:1400.03px;top:910.94px;font-size:22.3px;transform:scale(0.9342,1);">950</div>
<div class="t" id="xl" style="left:672.75px;top:987.72px;font-size:32.8px;-webkit-text-stroke:0.45px #000;transform:scale(0.9452,1);">Wavelength(nm)</div>
<div class="t" id="yl" style="left:75.35px;top:773.12px;font-size:33px;-webkit-text-stroke:0.45px #000;transform:rotate(-90deg) scale(0.8959,1);">Reflectance(%)</div>
<div class="t" id="an" style="left:631.22px;top:799.84px;font-size:19.6px;color:#1597d5;word-spacing:-2px;-webkit-text-stroke:0.25px #1597d5;transform:scale(0.9508,1);">780 0.090307</div>
</div></body></html>
